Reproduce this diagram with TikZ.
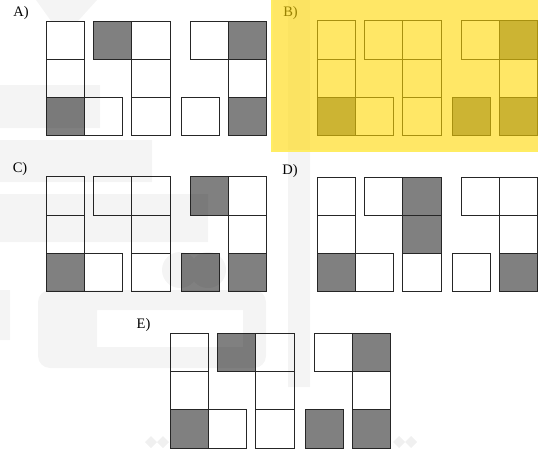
\documentclass[tikz,border=0pt]{standalone}
\usepackage{fontspec}
\setmainfont{Liberation Serif}
\definecolor{cg}{RGB}{128,128,128}
\colorlet{cw}{white}
\definecolor{hl}{RGB}{255,215,0}
\definecolor{hledge}{RGB}{255,240,100}
\tikzset{
  cell/.style={draw=black!85, line width=0.9pt, minimum width=38.3pt, minimum height=38.3pt,
    inner sep=0pt, outer sep=0pt, anchor=north west},
  lbl/.style={font=\fontsize{14.5}{15}\selectfont, inner sep=0pt},
  wm/.style={fill=black, fill opacity=0.045},
}
\def\cellX{{0,0,0,38.3,47.5,85.8,85.8,85.8,144.1,182.4,182.4,182.4,135}}
\def\cellY{{0,38.3,76.6,76.6,0,0,38.3,76.6,0,0,38.3,76.6,76.6}}
\newcommand\optcells[4]{%
  \begin{scope}[shift={(#2,#3)}]
    \foreach \f [count=\i from 0] in {#4}{
      \pgfmathsetmacro\cx{\cellX[\i]}
      \pgfmathsetmacro\cy{\cellY[\i]}
      \node[cell, fill=\f] (#1-\i) at (\cx,\cy) {};
    }
  \end{scope}}
\begin{document}
\begin{tikzpicture}[x=1pt, y=-1pt]
\useasboundingbox (0,0) rectangle (538,452);
% option labels
\node[lbl] (la) at (21,13) {A)};
\node[lbl] (lb) at (290.5,13.5) {B)};
\node[lbl] (lc) at (20,169.5) {C)};
\node[lbl] (ld) at (290,171) {D)};
\node[lbl] (le) at (143.5,325) {E)};
% cells: c1r1,c1r2,c1r3,b1,t2,c2r1,c2r2,c2r3,t3,c3r1,c3r2,c3r3,s3
\optcells{A}{46}{21}{cw,cw,cg,cw,cg,cw,cw,cw,cw,cg,cw,cg,cw}
\optcells{B}{317}{20.7}{cw,cw,cg,cw,cw,cw,cw,cw,cw,cg,cw,cg,cg}
\optcells{C}{46}{176.7}{cw,cw,cg,cw,cw,cw,cw,cw,cg,cw,cw,cg,cg}
\optcells{D}{317}{177}{cw,cw,cg,cw,cw,cg,cg,cw,cw,cw,cw,cg,cw}
\optcells{E}{170}{333.3}{cw,cw,cg,cw,cg,cw,cw,cw,cw,cg,cw,cg,cg}
% faint watermark
\fill[wm] (36,0) -- (97,0) -- (78,21) -- (51,21) -- cycle
  (0,85) rectangle (100,128)
  (0,140) rectangle (152,182)
  (0,194) rectangle (208,242)
  (288,0) rectangle (310,387)
  (180,270) circle (18) (208,270) circle (18)
  (0,290) rectangle (10,340);
\fill[wm, even odd rule] [rounded corners=12pt] (38,290) rectangle (266,368)
  [sharp corners] (97,310) rectangle (243,347);
\fill[fill=black, fill opacity=0.06]
  (145,442) -- (151,436) -- (157,442) -- (151,448) -- cycle
  (157,442) -- (163,436) -- (169,442) -- (163,448) -- cycle
  (393,442) -- (399,436) -- (405,442) -- (399,448) -- cycle
  (405,442) -- (411,436) -- (417,442) -- (411,448) -- cycle;
% highlight over option B
\fill[hl, fill opacity=0.6] (271,0) rectangle (538,152);
\draw[hledge, line width=2pt, opacity=0.8] (272,0) -- (272,151) -- (538,151);
\end{tikzpicture}
\end{document}
